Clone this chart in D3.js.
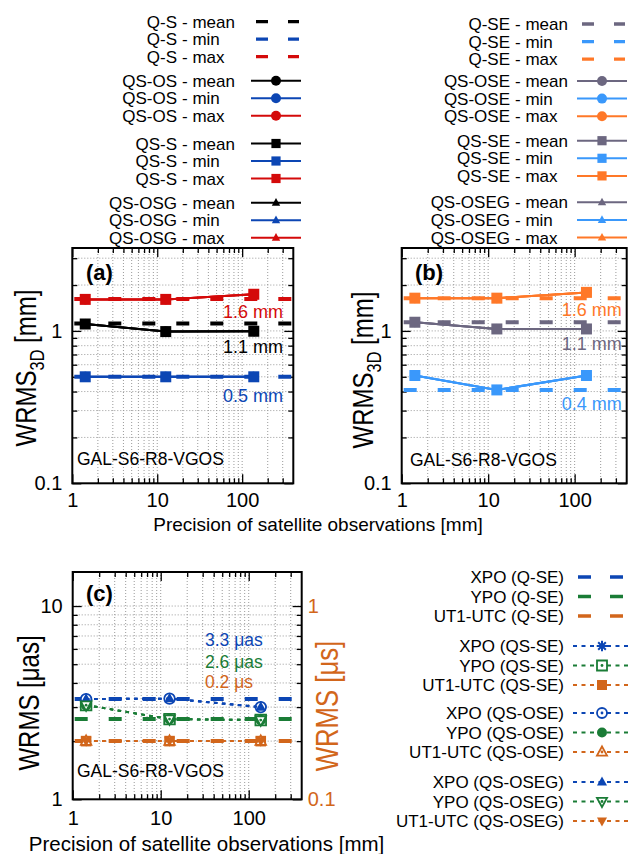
<!DOCTYPE html>
<html>
<head>
<meta charset="utf-8">
<script src="https://cdn.jsdelivr.net/npm/d3@7"></script>
<style>
  body { margin: 0; background: #fff; }
  svg { display: block; }
</style>
</head>
<body>
<svg id="fig" width="633" height="854"></svg>
<script>
// ---------------- data ----------------
// precision of the simulated satellite observations [mm]
const precisionMM = [1.42, 12.6, 137];

// tick values
const xMajorTicks = [1, 10, 100];
const xMinorTicks = [2, 3, 4, 5, 6, 7, 8, 9, 20, 30, 40, 50, 60, 70, 80, 90, 200, 300];
const y3DMajorTicks = [0.1, 1];
const y3DMinorTicks = [0.2, 0.3, 0.4, 0.5, 0.6, 0.7, 0.8, 0.9, 2, 3];
const yEopMajorTicks = [1, 10];
const yEopMinorTicks = [2, 3, 4, 5, 6, 7, 8, 9];
const yUt1MajorTicks = [0.1, 1];
const yUt1MinorTicks = [0.2, 0.3, 0.4, 0.5, 0.6, 0.7, 0.8, 0.9];

// (a) WRMS 3D [mm]; reference levels Q-S: mean, min, max
const qS = [1.12, 0.50, 1.62];
const qsOS_mean = [1.11, 0.99, 0.995];
const qsOS_min  = [0.50, 0.50, 0.50];
const qsOS_max  = [1.61, 1.61, 1.74];
const qsS_mean  = [1.11, 0.99, 0.995];
const qsS_min   = [0.50, 0.50, 0.50];
const qsS_max   = [1.61, 1.61, 1.74];
const qsOSG_mean = [1.11, 0.99, 0.995];
const qsOSG_min  = [0.50, 0.50, 0.50];
const qsOSG_max  = [1.61, 1.61, 1.74];

// (b) WRMS 3D [mm]; reference levels Q-SE: mean, min, max
const qSE = [1.14, 0.41, 1.64];
const qsOSE_mean = [1.14, 1.03, 1.03];
const qsOSE_min  = [0.51, 0.41, 0.51];
const qsOSE_max  = [1.64, 1.64, 1.79];
const qsSE_mean  = [1.14, 1.03, 1.03];
const qsSE_min   = [0.51, 0.41, 0.51];
const qsSE_max   = [1.64, 1.64, 1.79];
const qsOSEG_mean = [1.14, 1.03, 1.03];
const qsOSEG_min  = [0.51, 0.41, 0.51];
const qsOSEG_max  = [1.64, 1.64, 1.79];

// (c) EOP WRMS; Q-SE reference: XPO [µas], YPO [µas], UT1-UTC [µs]
const qSE_eop = [3.3, 2.6, 0.2];
const xpo_QSSE   = [3.30, 3.32, 3.00];
const ypo_QSSE   = [3.07, 2.60, 2.57];
const ut1_QSSE   = [0.20, 0.20, 0.20];
const xpo_QSOSE  = [3.30, 3.32, 3.00];
const ypo_QSOSE  = [3.07, 2.60, 2.57];
const ut1_QSOSE  = [0.20, 0.20, 0.20];
const xpo_QSOSEG = [3.30, 3.32, 3.00];
const ypo_QSOSEG = [3.07, 2.60, 2.57];
const ut1_QSOSEG = [0.20, 0.20, 0.20];

const networkName = "GAL-S6-R8-VGOS";

// ---------------- styling ----------------
const FONT = '"Liberation Sans", Arial, Helvetica, sans-serif';
const blackA = "#000000", blueA = "#0c46b4", redA = "#d40a0a";
const grayB = "#6c6780", lblueB = "#3a98fb", orangeB = "#ff7828";
const blueC = "#0c46b4", greenC = "#1a7c36", orangeC = "#d2661b";

const svg = d3.select("#fig");
svg.append("rect").attr("width", 633).attr("height", 854).attr("fill", "#fff");

// ---------------- scales ----------------
const xA = d3.scaleLog().domain([1, 400]).range([72.3, 293.3]);
const yA = d3.scaleLog().domain([0.1, 3.5]).range([483.3, 248]);
const xB = d3.scaleLog().domain([1, 400]).range([401.7, 626.7]);
const yB = d3.scaleLog().domain([0.1, 3.5]).range([483.3, 248]);
const xC = d3.scaleLog().domain([1, 400]).range([72.7, 301.7]);
const yC = d3.scaleLog().domain([1, 15]).range([799.3, 572]);
const yCR = d3.scaleLog().domain([0.1, 1.5]).range([799.3, 572]);

// ---------------- helpers ----------------
function markerPath(type, r) {
  switch (type) {
    case "square": case "squareOpen":
      return `M${-r},${-r}h${2 * r}v${2 * r}h${-2 * r}Z`;
    case "circle": case "circleOpen":
      return `M${r},0A${r},${r} 0 1,1 ${-r},0A${r},${r} 0 1,1 ${r},0Z`;
    case "triUp": case "triUpOpen":
      return `M0,${-r * 1.15}L${r * 1.05},${r * 0.75}L${-r * 1.05},${r * 0.75}Z`;
    case "triDown": case "triDownOpen":
      return `M0,${r * 1.15}L${r * 1.05},${-r * 0.75}L${-r * 1.05},${-r * 0.75}Z`;
    case "asterisk": {
      const k = r * 0.72;
      return `M${-r},0H${r}M0,${-r}V${r}M${-k},${-k}L${k},${k}M${-k},${k}L${k},${-k}`;
    }
  }
}

function drawMarker(g, type, cx, cy, r, color) {
  const open = /Open$/.test(type);
  const p = g.append("path")
    .attr("transform", `translate(${cx},${cy})`)
    .attr("d", markerPath(type, r));
  if (type === "asterisk") {
    p.attr("fill", "none").attr("stroke", color).attr("stroke-width", 2);
  } else if (open) {
    p.attr("fill", "#fff").attr("stroke", color).attr("stroke-width", 1.8);
    g.append("circle").attr("cx", cx).attr("cy", cy).attr("r", 1.4).attr("fill", color);
  } else {
    p.attr("fill", color);
  }
}

function drawSeries(g, x, y, values, color, marker, size, lw, dash) {
  const line = d3.line()
    .x((d, i) => x(precisionMM[i]))
    .y(d => y(d));
  g.append("path").datum(values)
    .attr("d", line)
    .attr("fill", "none")
    .attr("stroke", color)
    .attr("stroke-width", lw)
    .attr("stroke-dasharray", dash || null);
  values.forEach((v, i) => drawMarker(g, marker, x(precisionMM[i]), y(v), size, color));
}

function refLevel(g, x, y, value, color, width) {
  const [x0, x1] = x.range();
  g.append("line")
    .attr("x1", x0).attr("x2", x1)
    .attr("y1", y(value)).attr("y2", y(value))
    .attr("stroke", color).attr("stroke-width", width)
    .attr("stroke-dasharray", "13,21").attr("stroke-dashoffset", -2);
}

function styleAxis(sel, size, color) {
  sel.select(".domain").remove();
  sel.attr("font-family", FONT).attr("font-size", size);
  sel.selectAll(".tick line").attr("stroke", "#000").attr("stroke-width", 1.3);
  sel.selectAll(".tick text").attr("fill", color || "#000");
}

// grid, ticks and frame of one panel
function panelFrame(g, x, y, yMajor, yMinor, opt) {
  const [x0, x1] = x.range();
  const [yb, yt] = y.range();
  const [dx0, dx1] = x.domain();
  const [dy0, dy1] = y.domain();
  const xs = xMajorTicks.concat(xMinorTicks).filter(v => v > dx0 && v < dx1);
  const ys = yMajor.concat(yMinor).filter(v => v > dy0 && v < dy1);
  const grid = g.append("g").attr("stroke", "#9a9a9a").attr("stroke-width", 1).attr("stroke-dasharray", "1,2");
  grid.selectAll("line.v").data(xs).join("line").attr("class", "v")
    .attr("x1", d => x(d)).attr("x2", d => x(d)).attr("y1", yt).attr("y2", yb);
  grid.selectAll("line.h").data(ys).join("line").attr("class", "h")
    .attr("x1", x0).attr("x2", x1).attr("y1", d => y(d)).attr("y2", d => y(d));

  const fmt = d => String(d);
  // bottom
  g.append("g").attr("transform", `translate(0,${yb})`)
    .call(d3.axisBottom(x).tickValues(xMajorTicks).tickSize(-9).tickPadding(opt.xPad).tickFormat(fmt))
    .call(s => styleAxis(s, 20));
  g.append("g").attr("transform", `translate(0,${yb})`)
    .call(d3.axisBottom(x).tickValues(xMinorTicks).tickSize(-5).tickFormat(""))
    .call(s => styleAxis(s, 20));
  // top mirror
  g.append("g").attr("transform", `translate(0,${yt})`)
    .call(d3.axisTop(x).tickValues(xMajorTicks).tickSize(-9).tickFormat(""))
    .call(s => styleAxis(s, 20));
  g.append("g").attr("transform", `translate(0,${yt})`)
    .call(d3.axisTop(x).tickValues(xMinorTicks).tickSize(-5).tickFormat(""))
    .call(s => styleAxis(s, 20));
  // left
  g.append("g").attr("transform", `translate(${x0},0)`)
    .call(d3.axisLeft(y).tickValues(yMajor).tickSize(-9).tickPadding(10).tickFormat(fmt))
    .call(s => styleAxis(s, 20));
  g.append("g").attr("transform", `translate(${x0},0)`)
    .call(d3.axisLeft(y).tickValues(yMinor).tickSize(-5).tickFormat(""))
    .call(s => styleAxis(s, 20));
  // right
  const yr = opt.yRight || y;
  const yrMajor = opt.yRightMajor || yMajor;
  const yrMinor = opt.yRightMinor || yMinor;
  g.append("g").attr("transform", `translate(${x1},0)`)
    .call(d3.axisRight(yr).tickValues(yrMajor).tickSize(-9).tickPadding(6)
      .tickFormat(opt.yRight ? fmt : ""))
    .call(s => styleAxis(s, 20, opt.yRightColor));
  g.append("g").attr("transform", `translate(${x1},0)`)
    .call(d3.axisRight(yr).tickValues(yrMinor).tickSize(-5).tickFormat(""))
    .call(s => styleAxis(s, 20));
}

function frameBox(g, x, y) {
  const [x0, x1] = x.range();
  const [yb, yt] = y.range();
  g.append("rect").attr("x", x0).attr("y", yt).attr("width", x1 - x0).attr("height", yb - yt)
    .attr("fill", "none").attr("stroke", "#000").attr("stroke-width", 2);
}

// text with optional horizontal compression (sx)
function text(g, x, y, str, o = {}) {
  const sx = o.sx || 1;
  return g.append("text")
    .attr("transform", `translate(${x},${y}) scale(${sx},1)`)
    .text(str)
    .attr("font-family", FONT).attr("font-size", o.size || 17)
    .attr("font-weight", o.weight || null)
    .attr("fill", o.color || "#000")
    .attr("text-anchor", o.anchor || "start");
}

// rotated axis title; sx compresses glyphs along the text
function yTitle(g, x, y, parts, size, color, sx) {
  const t = g.append("text")
    .attr("transform", `translate(${x},${y}) rotate(-90) scale(${sx},1)`)
    .attr("text-anchor", "middle").attr("font-family", FONT)
    .attr("font-size", size).attr("fill", color);
  parts.forEach(p => {
    const ts = t.append("tspan").text(p.t);
    if (p.sub) ts.attr("font-size", size * 0.68).attr("dy", size * 0.28);
    if (p.back) ts.attr("dy", -size * 0.28);
  });
}

const f1 = d3.format(".1f");
const LEG = { size: 17 };

// ---------------- legends (a) / (b) ----------------
function statLegend(g, rows, nameEnd, lineX0, lineX1) {
  const mid = (lineX0 + lineX1) / 2;
  rows.forEach(r => {
    text(g, nameEnd, r.y + 6, r.name, { ...LEG, anchor: "end" });
    text(g, nameEnd + 5, r.y + 6, "- " + r.stat, LEG);
    if (r.marker === null) {
      g.append("line").attr("x1", lineX0 + 5).attr("x2", lineX1 - 2)
        .attr("y1", r.y).attr("y2", r.y).attr("stroke", r.color)
        .attr("stroke-width", 3.3).attr("stroke-dasharray", "12,20");
    } else {
      g.append("line").attr("x1", lineX0).attr("x2", lineX1)
        .attr("y1", r.y).attr("y2", r.y).attr("stroke", r.color).attr("stroke-width", 2);
      const sz = r.marker === "square" ? 4.6 : r.marker === "circle" ? 5 : 4;
      drawMarker(g, r.marker, mid, r.y, sz, r.color);
    }
  });
}

const stats = ["mean", "min", "max"];
function buildRows(groups, colors, step) {
  const rows = [];
  groups.forEach(gr => stats.forEach((s, i) => rows.push({
    y: gr.y + i * step, name: gr.name, stat: s, color: colors[i], marker: gr.marker
  })));
  return rows;
}

const gLegA = svg.append("g");
statLegend(gLegA, buildRows([
  { name: "Q-S", y: 21.7, marker: null },
  { name: "QS-OS", y: 80.7, marker: "circle" },
  { name: "QS-S", y: 143.5, marker: "square" },
  { name: "QS-OSG", y: 202.7, marker: "triUp" }
], [blackA, blueA, redA], 17.5), 177, 251, 301);

const gLegB = svg.append("g");
statLegend(gLegB, buildRows([
  { name: "Q-SE", y: 24, marker: null },
  { name: "QS-OSE", y: 81, marker: "circle" },
  { name: "QS-SE", y: 140.7, marker: "square" },
  { name: "QS-OSEG", y: 202.3, marker: "triUp" }
], [grayB, lblueB, orangeB], 17.6), 510, 577, 627);

// ---------------- panel (a) ----------------
const gA = svg.append("g");
panelFrame(gA, xA, yA, y3DMajorTicks, y3DMinorTicks, { xPad: 9.5 });
const colorsA = [blackA, blueA, redA];
[0, 1, 2].forEach(i => refLevel(gA, xA, yA, qS[i], colorsA[i], 4));
[[qsOS_mean, qsOS_min, qsOS_max, "circle", 5],
 [qsOSG_mean, qsOSG_min, qsOSG_max, "triUp", 4.5],
 [qsS_mean, qsS_min, qsS_max, "square", 5.5]].forEach(([m, mn, mx, mk, sz]) => {
  drawSeries(gA, xA, yA, m, blackA, mk, sz, 2);
  drawSeries(gA, xA, yA, mn, blueA, mk, sz, 2);
  drawSeries(gA, xA, yA, mx, redA, mk, sz, 2);
});
frameBox(gA, xA, yA);
const dyA = [29.5, 25, 19];
[0, 1, 2].forEach(i => text(gA, 283, yA(qS[i]) + dyA[i], f1(qS[i]) + " mm", { size: 18, color: colorsA[i], anchor: "end" }));
text(gA, 86, 280, "(a)", { size: 22, weight: "bold" });
text(gA, 77, 465, networkName, { size: 17.5 });
yTitle(svg, 36, 368, [{ t: "WRMS" }, { t: "3D", sub: true }, { t: " [mm]", back: true }], 30, "#000", 0.8);

// ---------------- panel (b) ----------------
const gB = svg.append("g");
panelFrame(gB, xB, yB, y3DMajorTicks, y3DMinorTicks, { xPad: 9.5 });
const colorsB = [grayB, lblueB, orangeB];
[0, 1, 2].forEach(i => refLevel(gB, xB, yB, qSE[i], colorsB[i], 4));
[[qsOSE_mean, qsOSE_min, qsOSE_max, "circle", 5],
 [qsOSEG_mean, qsOSEG_min, qsOSEG_max, "triUp", 4.5],
 [qsSE_mean, qsSE_min, qsSE_max, "square", 5.5]].forEach(([m, mn, mx, mk, sz]) => {
  drawSeries(gB, xB, yB, m, grayB, mk, sz, 2);
  drawSeries(gB, xB, yB, mn, lblueB, mk, sz, 2);
  drawSeries(gB, xB, yB, mx, orangeB, mk, sz, 2);
});
frameBox(gB, xB, yB);
const dyB = [28, 20.3, 17.7];
[0, 1, 2].forEach(i => text(gB, 621.7, yB(qSE[i]) + dyB[i], f1(qSE[i]) + " mm", { size: 18, color: colorsB[i], anchor: "end" }));
text(gB, 415, 280, "(b)", { size: 22, weight: "bold" });
text(gB, 410, 466, networkName, { size: 17.5 });
yTitle(svg, 373, 370, [{ t: "WRMS" }, { t: "3D", sub: true }, { t: " [mm]", back: true }], 30, "#000", 0.8);

text(svg, 318, 531, "Precision of satellite observations [mm]", { size: 19, anchor: "middle" });

// ---------------- panel (c) ----------------
const gC = svg.append("g");
panelFrame(gC, xC, yC, yEopMajorTicks, yEopMinorTicks, {
  xPad: 11.5, yRight: yCR, yRightMajor: yUt1MajorTicks, yRightMinor: yUt1MinorTicks, yRightColor: orangeC
});
const colorsC = [blueC, greenC, orangeC];
const scalesC = [yC, yC, yCR];
[0, 1, 2].forEach(i => refLevel(gC, xC, scalesC[i], qSE_eop[i], colorsC[i], 4));
const dotted = "3.5,4.5";
[[[xpo_QSSE, ypo_QSSE, ut1_QSSE], ["asterisk", "squareOpen", "square"]],
 [[xpo_QSOSE, ypo_QSOSE, ut1_QSOSE], ["circleOpen", "circle", "triUpOpen"]],
 [[xpo_QSOSEG, ypo_QSOSEG, ut1_QSOSEG], ["triUp", "triDownOpen", "triDown"]]].forEach(([vals, mks]) => {
  vals.forEach((v, i) => {
    const sz = mks[i] === "asterisk" ? 5.5 : /^tri/.test(mks[i]) ? 5 : 5.3;
    drawSeries(gC, xC, scalesC[i], v, colorsC[i], mks[i], sz, 2, dotted);
  });
});
frameBox(gC, xC, yC);
const unitsC = [" μas", " μas", " μs"];
const labelYC = [646, 668, 687.5];
[0, 1, 2].forEach(i => text(gC, 205, labelYC[i], f1(qSE_eop[i]) + unitsC[i], { size: 17.5, color: colorsC[i] }));
text(gC, 86, 600.5, "(c)", { size: 22, weight: "bold" });
text(gC, 77, 777, networkName, { size: 17.5 });
yTitle(svg, 39, 703, [{ t: "WRMS [μas]" }], 30, "#000", 0.8);
yTitle(svg, 338, 706, [{ t: "WRMS [μs]" }], 31, orangeC, 0.83);
text(svg, 206.5, 851, "Precision of satellite observations [mm]", { size: 20.5, anchor: "middle" });

// ---------------- legend (c) ----------------
const gLegC = svg.append("g");
const eopNames = ["XPO", "YPO", "UT1-UTC"];
const legGroupsC = [
  { sol: "Q-SE", y: 577, markers: null },
  { sol: "QS-SE", y: 646, markers: ["asterisk", "squareOpen", "square"] },
  { sol: "QS-OSE", y: 713, markers: ["circleOpen", "circle", "triUpOpen"] },
  { sol: "QS-OSEG", y: 782, markers: ["triUp", "triDownOpen", "triDown"] }
];
legGroupsC.forEach(gr => eopNames.forEach((n, i) => {
  const y = gr.y + i * 19.5;
  text(gLegC, 564, y + 6, `${n} (${gr.sol})`, { ...LEG, anchor: "end" });
  if (!gr.markers) {
    gLegC.append("line").attr("x1", 578).attr("x2", 624).attr("y1", y).attr("y2", y)
      .attr("stroke", colorsC[i]).attr("stroke-width", 3.3).attr("stroke-dasharray", "13,19");
  } else {
    gLegC.append("line").attr("x1", 573).attr("x2", 631).attr("y1", y).attr("y2", y)
      .attr("stroke", colorsC[i]).attr("stroke-width", 2).attr("stroke-dasharray", "4,4.5");
    const m = gr.markers[i];
    drawMarker(gLegC, m, 602, y, m === "asterisk" ? 5.3 : /^tri/.test(m) ? 4.8 : 5, colorsC[i]);
  }
}));
</script>
</body>
</html>
